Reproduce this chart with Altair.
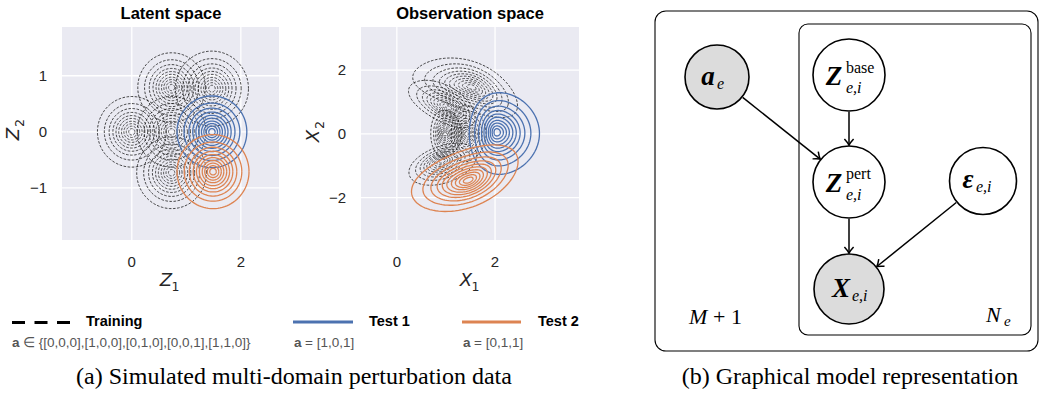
import numpy as np
import pandas as pd
import altair as alt

W, H = 1039, 397

# ---------------------------------------------------------------------------
# Density rings (one concentric family per domain)
# ---------------------------------------------------------------------------
RING_LEVELS = [1.0, 0.8, 0.66, 0.55, 0.46, 0.38, 0.30, 0.23, 0.16, 0.09]

# Latent space: ring centres and outer radii per domain
lat_group = ["Training"] * 5 + ["Test 1", "Test 2"]
lat_z1 = [0.00, 0.73, 1.47, 0.73, 0.73, 1.47, 1.49]
lat_z2 = [0.00, 0.79, 0.77, 0.00, -0.73, 0.00, -0.71]
lat_r = [0.63, 0.62, 0.67, 0.63, 0.64, 0.64, 0.66]

# Observation space: outer-ring long axis end points, relative width,
# innermost-ring position and curvature per domain
obs_group = ["Training"] * 5 + ["Test 1", "Test 2"]
obs_end1_x = [0.36, 0.27, 0.98, 1.42, 0.26, 2.14, 0.33]
obs_end1_y = [1.98, 1.50, -0.72, -0.88, -1.32, -1.27, -2.02]
obs_end2_x = [2.47, 1.58, 0.98, 1.42, 1.62, 2.14, 2.46]
obs_end2_y = [0.86, 0.38, 0.74, 0.88, -0.58, 1.29, -0.74]
obs_width = [0.44, 0.48, 0.66, 0.62, 0.52, 0.86, 0.50]
obs_core_x = [1.53, 1.07, 0.98, 1.42, 0.92, 2.03, 1.46]
obs_core_y = [1.46, 0.80, 0.00, 0.00, -0.85, 0.05, -1.46]
obs_bend = [-0.14, -0.06, 0.10, 0.15, 0.02, 0.12, 0.06]

# Axes
lat_xdom, lat_ydom = [-1.28, 2.70], [-1.93, 1.87]
obs_xdom, obs_ydom = [-0.73, 3.71], [-3.33, 3.35]
lat_xticks, lat_yticks = [0, 2], [-1, 0, 1]
obs_xticks, obs_yticks = [0, 2], [-2, 0, 2]

# Plot-area placement on the canvas
lat_xrange, lat_yrange = [62, 279], [240, 27]
obs_xrange, obs_yrange = [361, 579], [240, 27]

BLUE, ORANGE = "#4c72b0", "#dd8452"
SANS, SERIF, MATH = "Liberation Sans", "Liberation Serif", "DejaVu Sans"


def ring_table(xf, yf, groups, cx, cy, core_x, core_y, a, b, theta, bend, kx, ky):
    t = np.linspace(0, 2 * np.pi, 97)
    frames = []
    for j in range(len(groups)):
        for k, f in enumerate(RING_LEVELS):
            ccx = core_x[j] + f * (cx[j] - core_x[j])
            ccy = core_y[j] + f * (cy[j] - core_y[j])
            u = f * a[j] * np.cos(t)
            v = f * b[j] * np.sin(t) + bend[j] * f * a[j] * (np.cos(t) ** 2 - 0.5)
            px = u * np.cos(theta[j]) - v * np.sin(theta[j])
            py = u * np.sin(theta[j]) + v * np.cos(theta[j])
            frames.append(pd.DataFrame({
                xf: ccx + px / kx, yf: ccy + py / ky,
                "ring": f"{j}-{k}", "i": np.arange(len(t)), "group": groups[j],
            }))
    return pd.concat(frames, ignore_index=True)


# latent rings: circles in data units
n_lat = len(lat_group)
lat_rings = ring_table("z1", "z2", lat_group, lat_z1, lat_z2, lat_z1, lat_z2,
                       lat_r, lat_r, [0.0] * n_lat, [0.0] * n_lat, 1.0, 1.0)

# observation rings: ellipses laid out in screen-proportional units
kx = (obs_xrange[1] - obs_xrange[0]) / (obs_xdom[1] - obs_xdom[0])
ky = (obs_yrange[0] - obs_yrange[1]) / (obs_ydom[1] - obs_ydom[0])
o_cx, o_cy, o_a, o_b, o_th = [], [], [], [], []
for j in range(len(obs_group)):
    dx = (obs_end2_x[j] - obs_end1_x[j]) * kx
    dy = (obs_end2_y[j] - obs_end1_y[j]) * ky
    half = 0.5 * np.hypot(dx, dy)
    o_cx.append(0.5 * (obs_end1_x[j] + obs_end2_x[j]))
    o_cy.append(0.5 * (obs_end1_y[j] + obs_end2_y[j]))
    o_a.append(half)
    o_b.append(half * obs_width[j])
    o_th.append(np.arctan2(dy, dx))
obs_rings = ring_table("x1", "x2", obs_group, o_cx, o_cy, obs_core_x, obs_core_y,
                       o_a, o_b, o_th, obs_bend, kx, ky)


def fmt(v):
    return f"{v:g}".replace("-", "\u2212")


def panel(xf, yf, xdom, ydom, xrng, yrng, xticks, yticks, rings):
    xs = alt.Scale(domain=xdom, range=xrng, nice=False, zero=False)
    ys = alt.Scale(domain=ydom, range=yrng, nice=False, zero=False)
    X = lambda: alt.X(f"{xf}:Q", scale=xs, axis=None)
    Y = lambda: alt.Y(f"{yf}:Q", scale=ys, axis=None)

    bg = alt.Chart(pd.DataFrame({xf: [xdom[0]], "xe": [xdom[1]],
                                 yf: [ydom[0]], "ye": [ydom[1]]})).mark_rect(
        color="#eaeaf2").encode(x=X(), x2="xe:Q", y=Y(), y2="ye:Q")
    vgrid = alt.Chart(pd.DataFrame({xf: xticks, yf: [ydom[0]] * len(xticks),
                                    "ye": [ydom[1]] * len(xticks)})).mark_rule(
        color="white", strokeWidth=1.3).encode(x=X(), y=Y(), y2="ye:Q")
    hgrid = alt.Chart(pd.DataFrame({yf: yticks, xf: [xdom[0]] * len(yticks),
                                    "xe": [xdom[1]] * len(yticks)})).mark_rule(
        color="white", strokeWidth=1.3).encode(y=Y(), x=X(), x2="xe:Q")

    def rings_layer(group, **kw):
        return alt.Chart(rings[rings["group"] == group]).mark_line(**kw).encode(
            x=X(), y=Y(), detail="ring:N", order="i:Q")

    train = rings_layer("Training", color="#111111", strokeWidth=0.85,
                        strokeDash=[2.6, 1.5], opacity=0.9)
    t1 = rings_layer("Test 1", color=BLUE, strokeWidth=1.3)
    t2 = rings_layer("Test 2", color=ORANGE, strokeWidth=1.3)

    xlab = alt.Chart(pd.DataFrame({xf: xticks, yf: [ydom[0]] * len(xticks),
                                   "label": [fmt(v) for v in xticks]})).mark_text(
        font=SANS, fontSize=15, color="#262626", dy=22).encode(
        x=X(), y=Y(), text="label:N")
    ylab = alt.Chart(pd.DataFrame({yf: yticks, xf: [xdom[0]] * len(yticks),
                                   "label": [fmt(v) for v in yticks]})).mark_text(
        font=SANS, fontSize=15, color="#262626", align="right", dx=-15).encode(
        x=X(), y=Y(), text="label:N")
    return alt.layer(bg, vgrid, hgrid, train, t1, t2, xlab, ylab)


lat_panel = panel("z1", "z2", lat_xdom, lat_ydom, lat_xrange, lat_yrange,
                  lat_xticks, lat_yticks, lat_rings)
obs_panel = panel("x1", "x2", obs_xdom, obs_ydom, obs_xrange, obs_yrange,
                  obs_xticks, obs_yticks, obs_rings)

# ---------------------------------------------------------------------------
# Canvas-positioned layer: titles, legend, captions, graphical model
# ---------------------------------------------------------------------------
PX = alt.Scale(domain=[0, W], range=[0, W], nice=False, zero=False)
PY = alt.Scale(domain=[0, H], range=[0, H], nice=False, zero=False)


def px_enc(**extra):
    enc = dict(x=alt.X("px:Q", scale=PX, axis=None), y=alt.Y("py:Q", scale=PY, axis=None))
    enc.update(extra)
    return enc


def texts(rows, **kw):
    df = pd.DataFrame(rows, columns=["px", "py", "label"])
    kw.setdefault("baseline", "middle")
    return alt.Chart(df).mark_text(**kw).encode(**px_enc(text="label:N"))


layers = []
# panel titles
layers.append(texts([(171, 14, "Latent space"), (470, 14, "Observation space")],
                    font=SANS, fontSize=16.5, fontWeight="bold", color="black"))
# axis titles
layers.append(texts([(166, 281, "Z"), (466, 281, "X")],
                    font=MATH, fontSize=18, fontStyle="italic", color="#262626"))
layers.append(texts([(175.5, 287, "1"), (475.5, 287, "1")],
                    font=MATH, fontSize=12.5, color="#262626"))
layers.append(texts([(14, 134, "Z"), (314, 136, "X")],
                    font=MATH, fontSize=18, fontStyle="italic", color="#262626", angle=270))
layers.append(texts([(19.5, 123, "2"), (319.5, 125, "2")],
                    font=MATH, fontSize=12.5, color="#262626", angle=270))

# legend
leg_lines = pd.DataFrame({"px": [12, 293, 462], "pe": [70, 353, 521],
                          "py": [322.5, 322, 322], "series": ["Training", "Test 1", "Test 2"]})
layers.append(alt.Chart(leg_lines[leg_lines.series == "Training"]).mark_rule(
    color="black", strokeWidth=3, strokeDash=[13, 9.5]).encode(**px_enc(x2="pe:Q")))
layers.append(alt.Chart(leg_lines[leg_lines.series == "Test 1"]).mark_rule(
    color=BLUE, strokeWidth=3).encode(**px_enc(x2="pe:Q")))
layers.append(alt.Chart(leg_lines[leg_lines.series == "Test 2"]).mark_rule(
    color=ORANGE, strokeWidth=3).encode(**px_enc(x2="pe:Q")))
layers.append(texts([(86, 322, "Training"), (369, 322, "Test 1"), (538, 322, "Test 2")],
                    font=SANS, fontSize=14.5, fontWeight="bold", color="black", align="left"))
layers.append(texts([(12, 342.5, "a"), (294, 342.5, "a"), (463, 342.5, "a")],
                    font=SANS, fontSize=13.5, fontWeight="bold", color="#555555", align="left"))
layers.append(texts([(23, 342.5, "\u2208 {[0,0,0],[1,0,0],[0,1,0],[0,0,1],[1,1,0]}"),
                     (305, 342.5, "= [1,0,1]"), (474, 342.5, "= [0,1,1]")],
                    font=SANS, fontSize=13.5, color="#555555", align="left"))

# captions
layers.append(texts([(294, 377, "(a) Simulated multi-domain perturbation data"),
                     (850, 377, "(b) Graphical model representation")],
                    font=SERIF, fontSize=24, color="black"))

# plates
plates = pd.DataFrame({"px": [655, 799], "pe": [1038, 1031], "py": [11, 24], "qe": [351, 335]})
layers.append(alt.Chart(plates.iloc[[0]]).mark_rect(
    fill="white", fillOpacity=0, stroke="black", strokeWidth=1.1, cornerRadius=11).encode(
    **px_enc(x2="pe:Q", y2="qe:Q")))
layers.append(alt.Chart(plates.iloc[[1]]).mark_rect(
    fill="white", fillOpacity=0, stroke="black", strokeWidth=1.1, cornerRadius=9).encode(
    **px_enc(x2="pe:Q", y2="qe:Q")))

# nodes of the graphical model
node_name = ["a", "zb", "zp", "eps", "x"]
node_x = [717, 849, 849, 983, 849]
node_y = [77, 75, 182, 181, 289]
node_r = [32, 36, 36, 33.5, 35]
node_fill = ["#dcdcdc", "white", "white", "white", "#dcdcdc"]
edges = [("a", "zp"), ("zb", "zp"), ("zp", "x"), ("eps", "x")]

pos = {n: (x, y, r) for n, x, y, r in zip(node_name, node_x, node_y, node_r)}
rows = []
for s, t in edges:
    sx, sy, sr = pos[s]
    tx, ty, tr = pos[t]
    d = np.hypot(tx - sx, ty - sy)
    ux, uy = (tx - sx) / d, (ty - sy) / d
    rows.append({"px": sx + ux * (sr + 0.8), "py": sy + uy * (sr + 0.8),
                 "pe": tx - ux * (tr + 0.8), "qe": ty - uy * (tr + 0.8),
                 "ang": float(np.degrees(np.arctan2(uy, ux)) % 360)})
edge_df = pd.DataFrame(rows)
layers.append(alt.Chart(edge_df).mark_rule(color="black", strokeWidth=1.5).encode(
    **px_enc(x2="pe:Q", y2="qe:Q")))
head_df = edge_df[["pe", "qe", "ang"]].rename(columns={"pe": "px", "qe": "py"})
layers.append(alt.Chart(head_df).mark_point(
    shape="M -1 -0.75 Q -0.4 -0.2 0 0 Q -0.4 0.2 -1 0.75", filled=False,
    stroke="black", strokeWidth=1.5, opacity=1, size=150).encode(
    **px_enc(angle=alt.Angle("ang:Q", scale=None))))

nodes_df = pd.DataFrame({"px": node_x, "py": node_y,
                         "size": [(2 * r) ** 2 for r in node_r], "fill": node_fill})
layers.append(alt.Chart(nodes_df).mark_point(
    shape="circle", filled=True, fillOpacity=1, opacity=1, stroke="black", strokeWidth=1.6).encode(
    **px_enc(size=alt.Size("size:Q", scale=None), fill=alt.Fill("fill:N", scale=None))))

# node labels
layers.append(texts([(708, 77, "a"), (834, 77, "Z"), (834, 184, "Z"),
                     (968, 180, "\u03b5"), (841, 289, "X")],
                    font=SERIF, fontSize=27, fontStyle="italic", fontWeight="bold", color="black"))
layers.append(texts([(717, 84, "e"), (846, 88, "e,i"), (846, 195, "e,i"),
                     (976, 187, "e,i"), (852, 296, "e,i")],
                    font=SERIF, fontSize=16, fontStyle="italic", color="black", align="left"))
layers.append(texts([(846, 68, "base"), (846, 174, "pert")],
                    font=SERIF, fontSize=16, color="black", align="left"))
# plate labels
layers.append(texts([(689, 317, "M"), (986, 315, "N")],
                    font=SERIF, fontSize=22, fontStyle="italic", color="black", align="left"))
layers.append(texts([(713, 317, "+ 1")],
                    font=SERIF, fontSize=22, color="black", align="left"))
layers.append(texts([(1004, 321, "e")],
                    font=SERIF, fontSize=15, fontStyle="italic", color="black", align="left"))

annot = alt.layer(*layers)

chart = alt.layer(lat_panel, obs_panel, annot).resolve_scale(
    x="independent", y="independent"
).properties(
    width=W, height=H, padding=0, autosize=alt.AutoSizeParams(type="none"),
    background="white",
).configure_view(stroke=None)

chart.save("out.html", embed_options={"renderer": "svg", "actions": False})
